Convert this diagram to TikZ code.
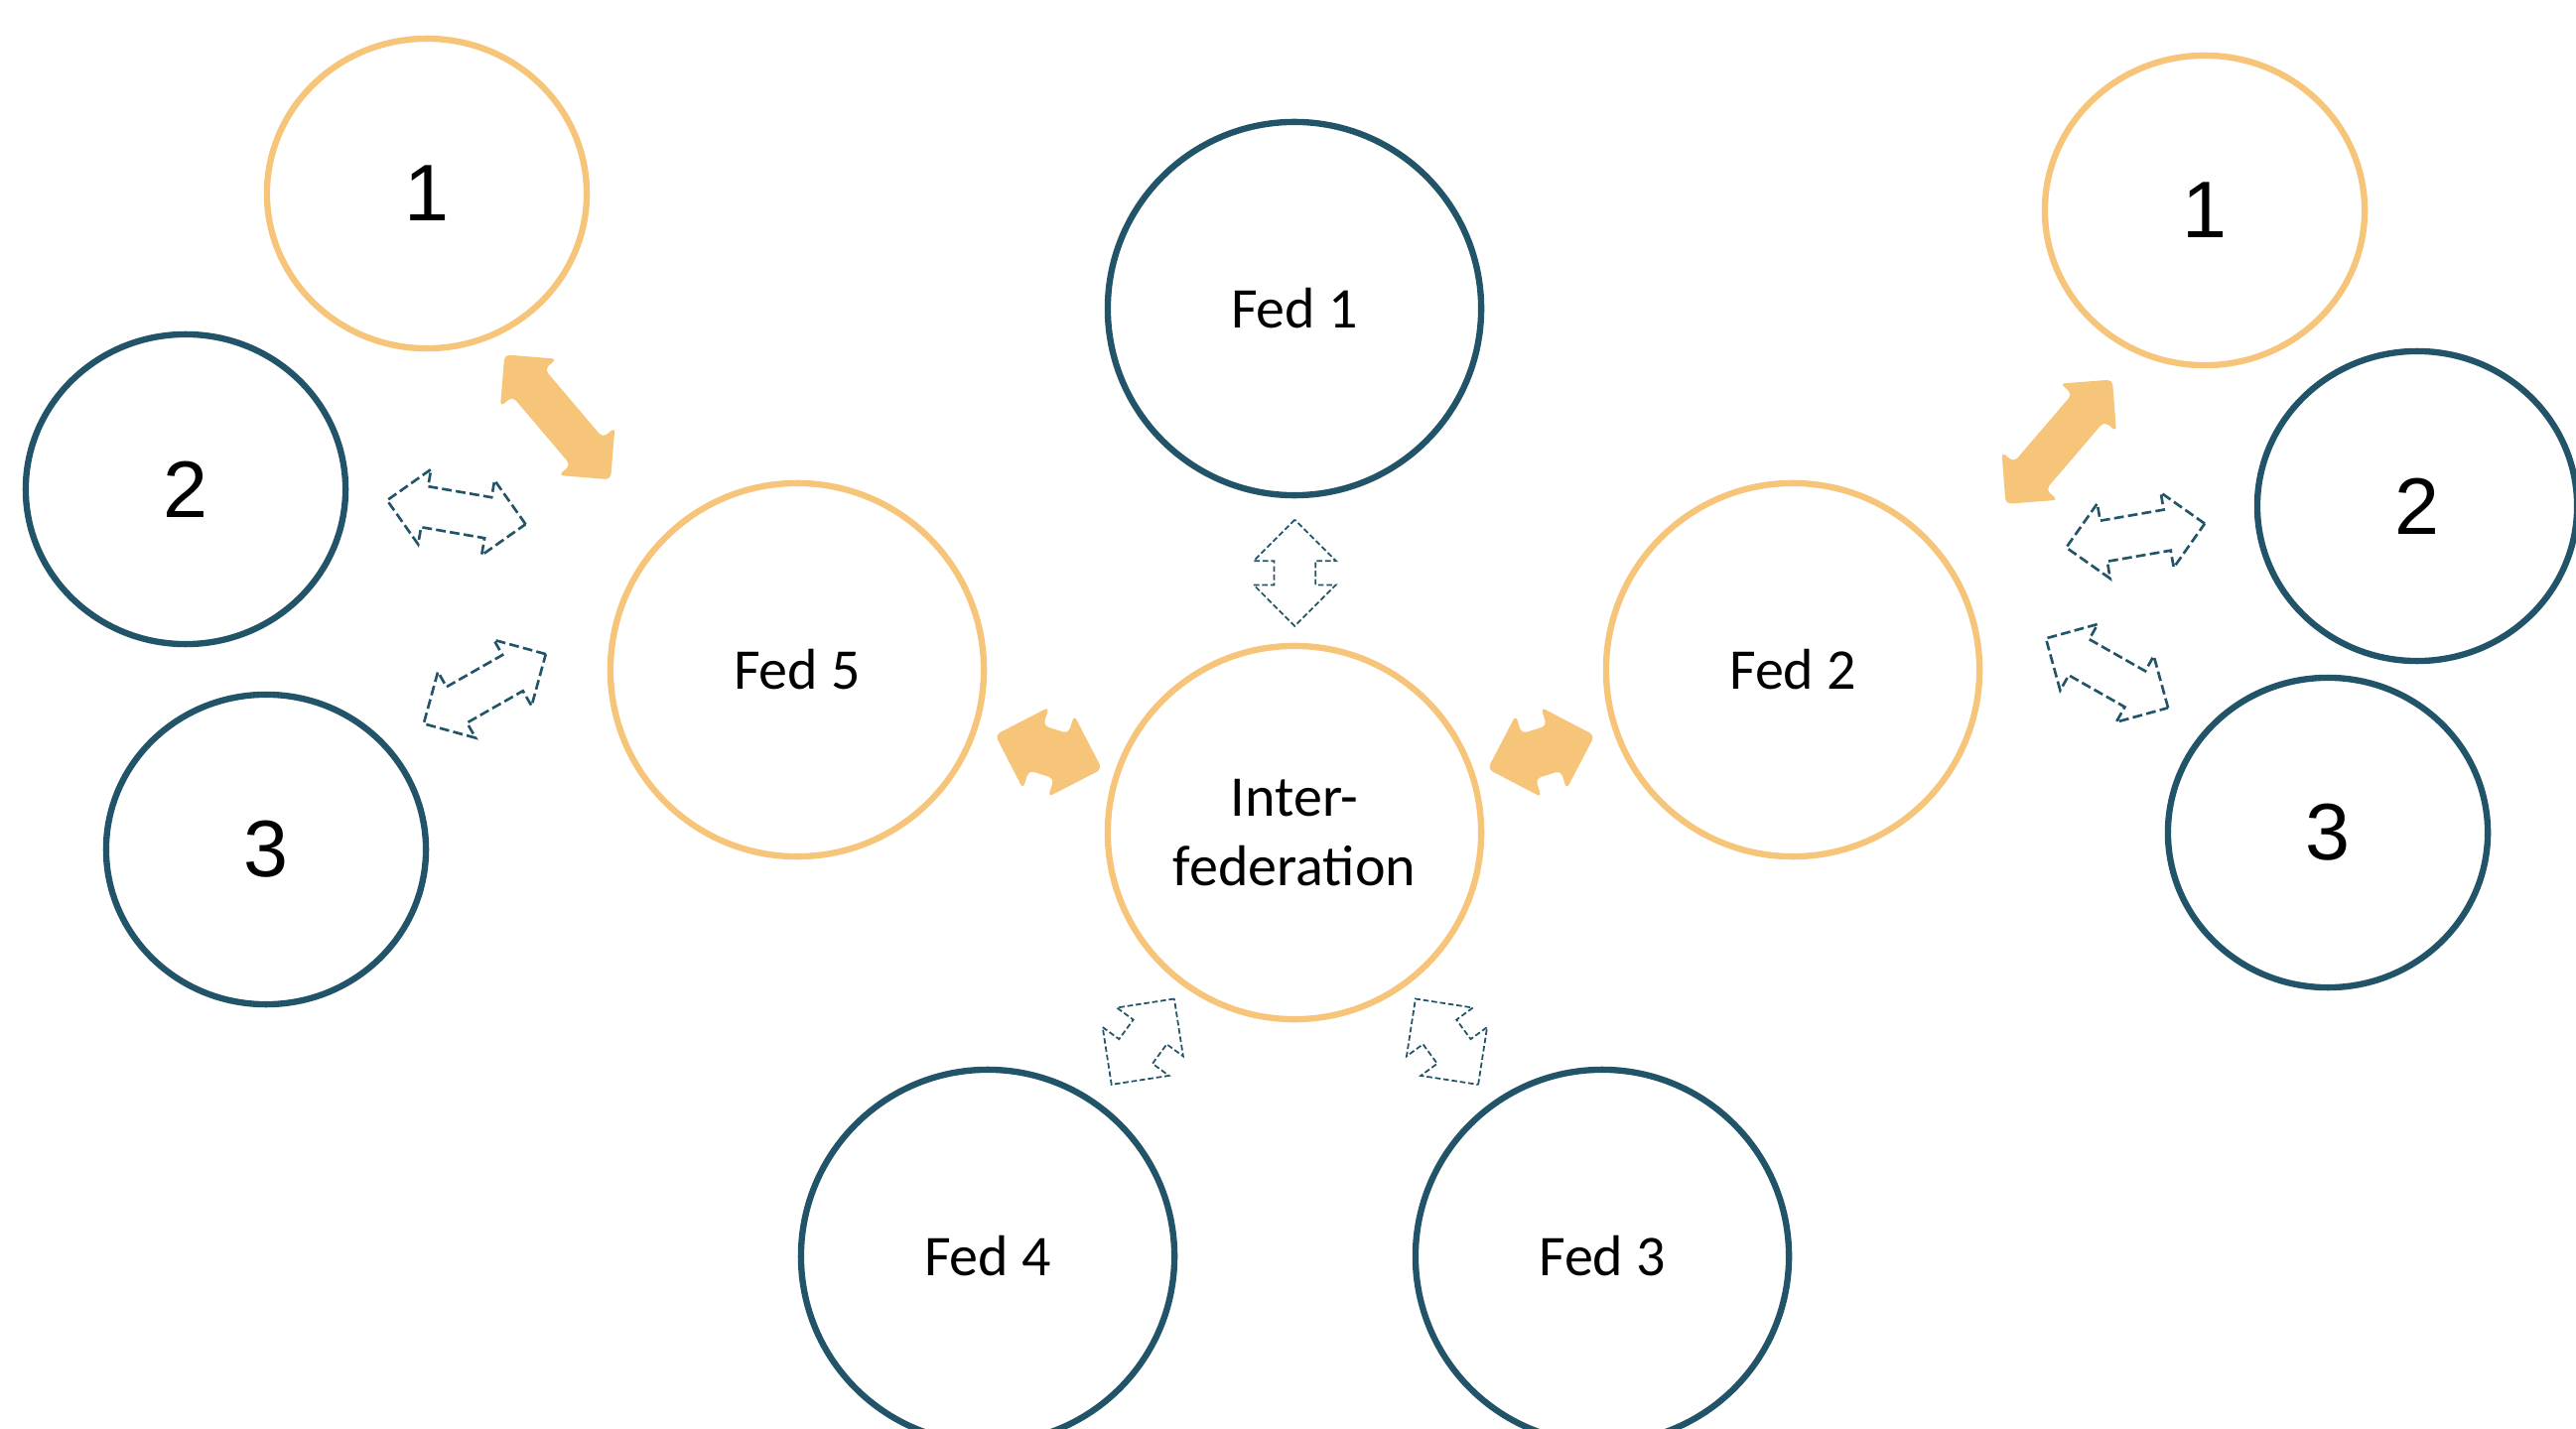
\documentclass[tikz,border=0pt]{standalone}
\usepackage{fontspec}
\setmainfont{Carlito}
\newfontfamily\digitfont{Liberation Sans}
\usetikzlibrary{shapes.geometric,shapes.arrows}
\definecolor{fedblue}{HTML}{215468}
\definecolor{fedgold}{HTML}{F6C57A}
\tikzset{
bigring/.style={circle, draw, line width=1.8pt, minimum size=3.76cm, inner sep=0pt, align=center, font=\fontsize{16.5}{19.8}\selectfont},
smallring/.style={ellipse, draw, line width=1.8pt, minimum width=3.22cm, minimum height=3.12cm, inner sep=0pt, font=\digitfont\fontsize{23}{27}\selectfont},
bluering/.style={draw=fedblue},
goldring/.style={draw=fedgold},
goldarrow/.style={double arrow, fill=fedgold, rounded corners=1.5pt, double arrow tip angle=90, inner xsep=0pt, minimum height=1.65cm, minimum width=0.73cm, inner ysep=0.205cm, double arrow head extend=0.16cm},
goldarrowhub/.style={goldarrow, minimum height=1.13cm, minimum width=0.85cm, inner ysep=0.23cm, double arrow head extend=0.195cm},
dasharrow/.style={double arrow, draw=fedblue, line width=0.75pt, dash pattern=on 2.8pt off 1.2pt, double arrow tip angle=90, inner xsep=0pt, minimum height=1.415cm, minimum width=0.74cm, inner ysep=0.195cm, double arrow head extend=0.175cm},
dasharrowhub/.style={dasharrow, line width=0.5pt, dash pattern=on 1.6pt off 0.8pt, minimum height=1.07cm, minimum width=0.81cm, inner ysep=0.2cm, double arrow head extend=0.205cm}
}
\begin{document}
\begin{tikzpicture}[x=0.01cm,y=-0.01cm]
\useasboundingbox (0,0) rectangle (2595,1440);

% federations round the hub
\node[bigring, goldring] (inter) at (1304,839) {Inter-\\federation};
\node[bigring, bluering] (fed1) at (1304,311) {Fed 1};
\node[bigring, goldring] (fed2) at (1806,675) {Fed 2};
\node[bigring, bluering] (fed3) at (1614,1266) {Fed 3};
\node[bigring, bluering] (fed4) at (995,1266) {Fed 4};
\node[bigring, goldring] (fed5) at (803,675) {Fed 5};

% members of Fed 5
\node[smallring, goldring] (fivea) at (430,195) {1};
\node[smallring, bluering] (fiveb) at (187,493) {2};
\node[smallring, bluering] (fivec) at (268,856) {3};

% members of Fed 2
\node[smallring, goldring] (twoa) at (2221,212) {1};
\node[smallring, bluering] (twob) at (2435,510) {2};
\node[smallring, bluering] (twoc) at (2345,839) {3};

% solid links
\node[goldarrow, rotate=-49.7] (link5a) at (561.7,420.3) {};
\node[goldarrow, rotate=49.4] (link2a) at (2074.2,445.2) {};
\node[goldarrowhub, rotate=-17.7] (link5) at (1056.3,757.8) {};
\node[goldarrowhub, rotate=17.4] (link2) at (1552.5,758) {};

% dashed links
\node[dasharrow, rotate=-9.8] (link5b) at (459.7,516.2) {};
\node[dasharrow, rotate=29.7] (link5c) at (488.3,694.2) {};
\node[dasharrow, rotate=9.8] (link2b) at (2151.2,539.7) {};
\node[dasharrow, rotate=-29.6] (link2c) at (2122.5,678.3) {};
\node[dasharrowhub, rotate=90] (link1) at (1304.3,577.3) {};
\node[dasharrowhub, rotate=53.8] (link4) at (1151.3,1049.7) {};
\node[dasharrowhub, rotate=-53.8] (link3) at (1457.5,1049.7) {};
\end{tikzpicture}
\end{document}
